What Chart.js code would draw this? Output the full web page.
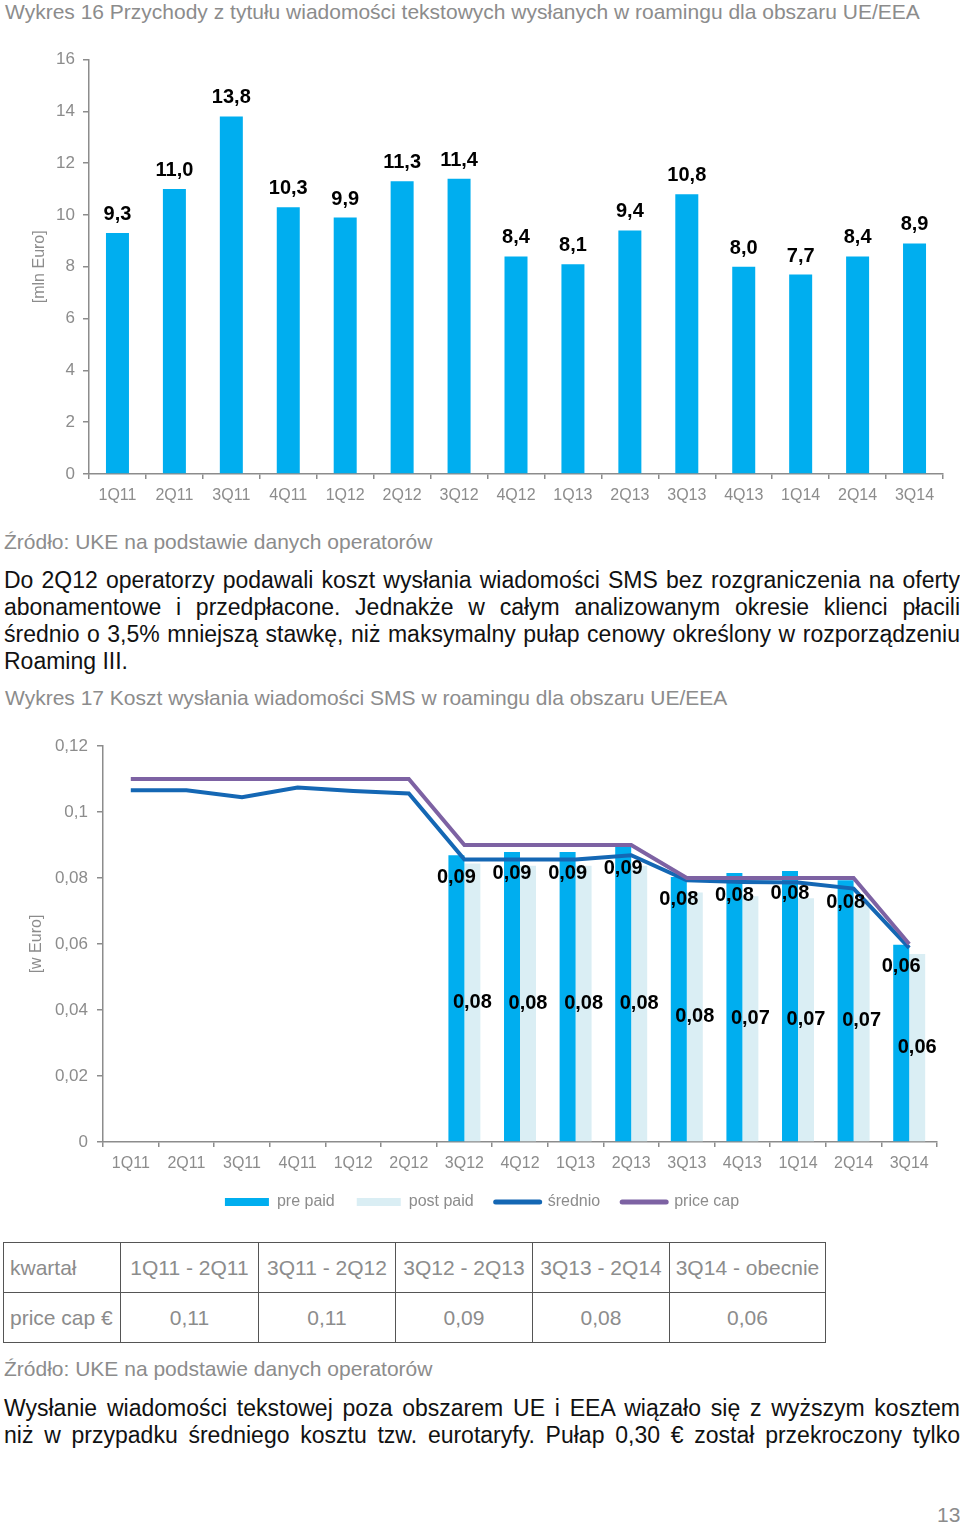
<!DOCTYPE html>
<html lang="pl">
<head>
<meta charset="utf-8">
<title>Wykres 16 / Wykres 17 – SMS w roamingu UE/EEA</title>
<script src="https://cdn.jsdelivr.net/npm/chart.js@4.4.1/dist/chart.umd.min.js"></script>
<style>
  html, body { margin: 0; padding: 0; background: #fff; }
  body {
    position: relative;
    width: 960px;
    height: 1523px;
    overflow: hidden;
    font-family: "Liberation Sans", Arial, sans-serif;
  }
  .abs { position: absolute; }
  .caption { color: #8c8c8c; font-size: 21px; line-height: 24px; white-space: nowrap; }
  .para { left: 4px; width: 956px; font-size: 23px; line-height: 27px; color: #111; }
  .para div { text-align: justify; text-align-last: justify; }
  .para div.last { text-align-last: left; }
  table.caps {
    border-collapse: collapse;
    color: #8c8c8c;
    font-size: 21px;
  }
  table.caps td {
    border: 1px solid #555;
    height: 49px;
    padding: 0;
    text-align: center;
    white-space: nowrap;
  }
  table.caps td.head { text-align: left; padding-left: 6px; }
</style>
</head>
<body>

<div class="abs caption" style="left:5px; top:0px;">Wykres 16 Przychody z tytułu wiadomości tekstowych wysłanych w roamingu dla obszaru UE/EEA</div>

<canvas id="revenue-chart" class="abs" style="left:0; top:40px;" width="960" height="470"></canvas>

<div class="abs caption" style="left:4px; top:530px;">Źródło: UKE na podstawie danych operatorów</div>

<div class="abs para" style="top:567px;">
  <div>Do 2Q12 operatorzy podawali koszt wysłania wiadomości SMS bez rozgraniczenia na oferty</div>
  <div>abonamentowe i przedpłacone. Jednakże w całym analizowanym okresie klienci płacili</div>
  <div>średnio o 3,5% mniejszą stawkę, niż maksymalny pułap cenowy określony w rozporządzeniu</div>
  <div class="last">Roaming III.</div>
</div>

<div class="abs caption" style="left:5px; top:686px;">Wykres 17 Koszt wysłania wiadomości SMS w roamingu dla obszaru UE/EEA</div>

<canvas id="cost-chart" class="abs" style="left:0; top:725px;" width="960" height="495"></canvas>

<table class="abs caps" style="left:3px; top:1242px;">
  <tr>
    <td class="head" style="width:110px;">kwartał</td>
    <td style="width:137px;">1Q11 - 2Q11</td>
    <td style="width:136px;">3Q11 - 2Q12</td>
    <td style="width:136px;">3Q12 - 2Q13</td>
    <td style="width:136px;">3Q13 - 2Q14</td>
    <td style="width:155px;">3Q14 - obecnie</td>
  </tr>
  <tr>
    <td class="head">price cap €</td>
    <td>0,11</td>
    <td>0,11</td>
    <td>0,09</td>
    <td>0,08</td>
    <td>0,06</td>
  </tr>
</table>

<div class="abs caption" style="left:4px; top:1357px;">Źródło: UKE na podstawie danych operatorów</div>

<div class="abs para" style="top:1395px;">
  <div>Wysłanie wiadomości tekstowej poza obszarem UE i EEA wiązało się z wyższym kosztem</div>
  <div>niż w przypadku średniego kosztu tzw. eurotaryfy. Pułap 0,30 € został przekroczony tylko</div>
</div>

<div class="abs caption" style="left:937px; top:1503px;">13</div>

<script>
// ── Data ────────────────────────────────────
var quarters = ["1Q11", "2Q11", "3Q11", "4Q11", "1Q12", "2Q12", "3Q12", "4Q12",
                "1Q13", "2Q13", "3Q13", "4Q13", "1Q14", "2Q14", "3Q14"];

// Wykres 16 – przychody [mln Euro]
var revenue = [9.3, 11.0, 13.8, 10.3, 9.9, 11.3, 11.4, 8.4, 8.1, 9.4, 10.8, 8.0, 7.7, 8.4, 8.9];

// Wykres 17 – koszt SMS [w Euro]
var prePaid  = [null, null, null, null, null, null,
                0.0869, 0.0879, 0.0879, 0.0894, 0.0803, 0.0815, 0.0821, 0.0793, 0.0598];
var postPaid = [null, null, null, null, null, null,
                0.0844, 0.0837, 0.0837, 0.0837, 0.0756, 0.0745, 0.0739, 0.0735, 0.0570];
var average  = [0.1066, 0.1066, 0.1045, 0.1074, 0.1064, 0.1056,
                0.0856, 0.0856, 0.0856, 0.0869, 0.0793, 0.0788, 0.0786, 0.0768, 0.0588];
var priceCap = [0.11, 0.11, 0.11, 0.11, 0.11, 0.11,
                0.09, 0.09, 0.09, 0.09, 0.08, 0.08, 0.08, 0.08, 0.06];

var seriesNames = ["pre paid", "post paid", "średnio", "price cap"];

(function () {
  "use strict";

  var FONT = "'Liberation Sans', Arial, sans-serif";
  var GREY = "#8c8c8c";
  var AXIS = "#8c8c8c";

  function comma(v, digits) {
    return v.toFixed(digits).replace(".", ",");
  }

  // draws value labels from the bar elements themselves
  var valueLabels = {
    id: "valueLabels",
    afterDatasetsDraw: function (chart, args, opts) {
      var ctx = chart.ctx;
      ctx.save();
      ctx.fillStyle = "#000";
      ctx.font = "bold 20px " + FONT;
      ctx.textAlign = "center";
      chart.data.datasets.forEach(function (ds, di) {
        var place = opts.place[di];
        if (!place) return;
        var meta = chart.getDatasetMeta(di);
        meta.data.forEach(function (bar, i) {
          var v = ds.data[i];
          if (v === null || v === undefined) return;
          place(ctx, bar, v);
        });
      });
      ctx.restore();
    },
  };

  // ── Wykres 16 ─────────────────────────────
  new Chart(document.getElementById("revenue-chart"), {
    type: "bar",
    data: {
      labels: quarters,
      datasets: [
        {
          data: revenue,
          backgroundColor: "#00aeef",
          barPercentage: 1,
          categoryPercentage: 0.404,
        },
      ],
    },
    options: {
      responsive: false,
      animation: false,
      events: [],
      layout: { padding: { left: 30, right: 17, top: 19.5, bottom: 0 } },
      plugins: {
        legend: { display: false },
        tooltip: { enabled: false },
        valueLabels: {
          place: [
            function (ctx, bar, v) {
              ctx.textBaseline = "alphabetic";
              ctx.fillText(comma(v, 1), bar.x, bar.y - 13);
            },
          ],
        },
      },
      scales: {
        y: {
          min: 0,
          max: 16,
          afterFit: function (s) { s.width = 59; },
          ticks: {
            stepSize: 2,
            padding: 8,
            color: GREY,
            font: { family: FONT, size: 17 },
          },
          grid: { drawOnChartArea: false, tickLength: 6, color: AXIS, lineWidth: 1.5 },
          border: { color: AXIS, width: 1.5 },
          title: {
            display: true,
            text: "[mln Euro]",
            color: GREY,
            padding: 0,
            font: { family: FONT, size: 16 },
          },
        },
        x: {
          afterFit: function (s) { s.height = 36; },
          ticks: {
            padding: 7,
            color: GREY,
            maxRotation: 0,
            autoSkip: false,
            font: { family: FONT, size: 16 },
          },
          grid: { drawOnChartArea: false, tickLength: 5, color: AXIS, lineWidth: 1.5 },
          border: { color: AXIS, width: 1.5 },
        },
      },
    },
    plugins: [valueLabels],
  });

  // ── Wykres 17 ─────────────────────────────
  var colors = {
    pre: "#00aeef",
    post: "#daeef4",
    avg: "#1467b4",
    cap: "#7d62a3",
  };

  new Chart(document.getElementById("cost-chart"), {
    type: "bar",
    data: {
      labels: quarters,
      datasets: [
        {
          label: seriesNames[0],
          data: prePaid,
          backgroundColor: colors.pre,
          barPercentage: 1,
          categoryPercentage: 0.575,
          order: 3,
        },
        {
          label: seriesNames[1],
          data: postPaid,
          backgroundColor: colors.post,
          barPercentage: 1,
          categoryPercentage: 0.575,
          order: 3,
        },
        {
          type: "line",
          label: seriesNames[2],
          data: average,
          borderColor: colors.avg,
          backgroundColor: colors.avg,
          borderWidth: 4,
          pointRadius: 0,
          tension: 0,
          order: 2,
        },
        {
          type: "line",
          label: seriesNames[3],
          data: priceCap,
          borderColor: colors.cap,
          backgroundColor: colors.cap,
          borderWidth: 4,
          pointRadius: 0,
          tension: 0,
          order: 1,
        },
      ],
    },
    options: {
      responsive: false,
      animation: false,
      events: [],
      layout: { padding: { left: 27, right: 23, top: 21, bottom: 0 } },
      plugins: {
        tooltip: { enabled: false },
        legend: {
          position: "bottom",
          labels: {
            usePointStyle: true,
            pointStyleWidth: 44,
            boxHeight: 8,
            padding: 22,
            color: GREY,
            font: { family: FONT, size: 16 },
            generateLabels: function (chart) {
              return chart.data.datasets.map(function (ds, i) {
                var isLine = ds.type === "line";
                var c = isLine ? ds.borderColor : ds.backgroundColor;
                return {
                  text: ds.label,
                  fillStyle: c,
                  strokeStyle: c,
                  lineWidth: isLine ? 5 : 0,
                  lineCap: "round",
                  pointStyle: isLine ? "line" : "rect",
                  hidden: false,
                  datasetIndex: i,
                  fontColor: GREY,
                };
              });
            },
          },
        },
        valueLabels: {
          place: [
            function (ctx, bar, v) {
              ctx.textBaseline = "middle";
              ctx.fillText(comma(v, 2), bar.x, bar.y + 22);
            },
            function (ctx, bar, v) {
              ctx.textBaseline = "middle";
              ctx.fillText(comma(v, 2), bar.x, (bar.y + bar.base) / 2);
            },
          ],
        },
      },
      scales: {
        y: {
          min: 0,
          max: 0.12,
          afterFit: function (s) { s.width = 76; },
          ticks: {
            stepSize: 0.02,
            padding: 9,
            color: GREY,
            font: { family: FONT, size: 17 },
            callback: function (v) {
              return String(Math.round(v * 100) / 100).replace(".", ",");
            },
          },
          grid: { drawOnChartArea: false, tickLength: 6, color: AXIS, lineWidth: 1.5 },
          border: { color: AXIS, width: 1.5 },
          title: {
            display: true,
            text: "[w Euro]",
            color: GREY,
            padding: 0,
            font: { family: FONT, size: 16 },
          },
        },
        x: {
          afterFit: function (s) { s.height = 30; },
          ticks: {
            padding: 7,
            color: GREY,
            maxRotation: 0,
            autoSkip: false,
            font: { family: FONT, size: 16 },
          },
          grid: { drawOnChartArea: false, tickLength: 5, color: AXIS, lineWidth: 1.5 },
          border: { color: AXIS, width: 1.5 },
        },
      },
    },
    plugins: [valueLabels],
  });
})();
</script>
</body>
</html>
